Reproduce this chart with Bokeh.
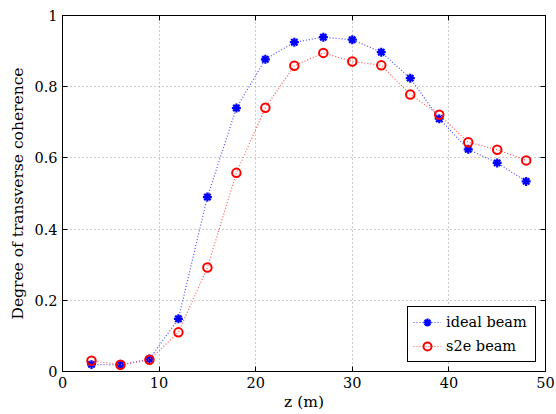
from bokeh.plotting import figure
from bokeh.models import LinearAxis, Range1d, FixedTicker, Legend, LegendItem
from bokeh.embed import file_html
from bokeh.resources import INLINE

# Propagation distance (m)
z = [3, 6, 9, 12, 15, 18, 21, 24, 27, 30, 33, 36, 39, 42, 45, 48]

# Degree of transverse coherence
ideal_beam = [0.020, 0.018, 0.035, 0.148, 0.490, 0.740, 0.877, 0.925, 0.939, 0.932,
              0.897, 0.824, 0.710, 0.624, 0.586, 0.534]
s2e_beam = [0.030, 0.019, 0.033, 0.110, 0.292, 0.558, 0.741, 0.859, 0.895, 0.871,
            0.860, 0.778, 0.721, 0.644, 0.623, 0.593]

x_ticks = [0, 10, 20, 30, 40, 50]
y_ticks = [0, 0.2, 0.4, 0.6, 0.8, 1]
y_tick_labels = {0: "0", 0.2: "0.2", 0.4: "0.4", 0.6: "0.6", 0.8: "0.8", 1: "1"}

FONT = "DejaVu Serif"

p = figure(width=556, height=414, output_backend="svg", toolbar_location=None,
           x_range=Range1d(0, 50), y_range=Range1d(0, 1),
           min_border_left=62, min_border_right=11, min_border_top=15, min_border_bottom=43)

p.outline_line_color = "black"
p.outline_line_width = 1
p.background_fill_color = "white"
p.border_fill_color = "white"

# dotted grid
for g in (p.xgrid, p.ygrid):
    g.grid_line_color = "#999999"
    g.grid_line_dash = "1 3"
    g.grid_line_width = 1
p.xgrid.ticker = FixedTicker(ticks=x_ticks[1:-1])
p.ygrid.ticker = FixedTicker(ticks=y_ticks[1:-1])

def style_axis(ax, ticks):
    ax.ticker = FixedTicker(ticks=ticks)
    ax.axis_line_color = "black"
    ax.major_tick_line_color = "black"
    ax.major_tick_in = 5
    ax.major_tick_out = 0
    ax.minor_tick_line_color = None
    ax.major_label_text_font = FONT
    ax.major_label_text_font_size = "14.5px"
    ax.major_label_text_color = "black"
    ax.axis_label_text_font = FONT
    ax.axis_label_text_font_size = "15.5px"
    ax.axis_label_text_font_style = "normal"
    ax.axis_label_text_color = "black"

style_axis(p.xaxis[0], x_ticks)
style_axis(p.yaxis[0], y_ticks)
p.xaxis[0].axis_label = "z (m)"
p.xaxis[0].axis_label_standoff = 2
p.xaxis[0].major_label_standoff = 5
p.yaxis[0].axis_label = "Degree of transverse coherence"
p.yaxis[0].axis_label_standoff = 4
p.yaxis[0].major_label_standoff = 5
p.yaxis[0].major_label_overrides = y_tick_labels

# tick marks on the top and right edges of the box, without labels
top_axis = LinearAxis()
style_axis(top_axis, x_ticks)
top_axis.major_label_overrides = {t: "" for t in x_ticks}
p.add_layout(top_axis, "above")
right_axis = LinearAxis()
style_axis(right_axis, y_ticks)
right_axis.major_label_overrides = {t: "" for t in y_ticks}
p.add_layout(right_axis, "right")

# series
l1 = p.line(z, ideal_beam, line_color="#4d4dff", line_dash="1 2", line_width=1.2)
m1 = p.scatter(z, ideal_beam, marker="asterisk", size=9, line_color="blue", line_width=2.2)
l2 = p.line(z, s2e_beam, line_color="#ff5555", line_dash="1 2", line_width=1.2)
m2 = p.scatter(z, s2e_beam, marker="circle", size=8.5, line_color="red",
               fill_color=None, line_width=2)

legend = Legend(items=[LegendItem(label="ideal beam", renderers=[l1, m1]),
                       LegendItem(label="s2e beam", renderers=[l2, m2])],
                location="bottom_right")
legend.label_text_font = FONT
legend.label_text_font_size = "14.5px"
legend.label_text_color = "black"
legend.border_line_color = "black"
legend.border_line_width = 1
legend.border_line_alpha = 1
legend.margin = 9
legend.padding = 5
legend.spacing = 4
legend.glyph_width = 28
legend.glyph_height = 20
legend.label_height = 20
legend.label_width = 84
legend.label_standoff = 5
p.add_layout(legend)

open("out.html", "w").write(file_html(p, INLINE))
